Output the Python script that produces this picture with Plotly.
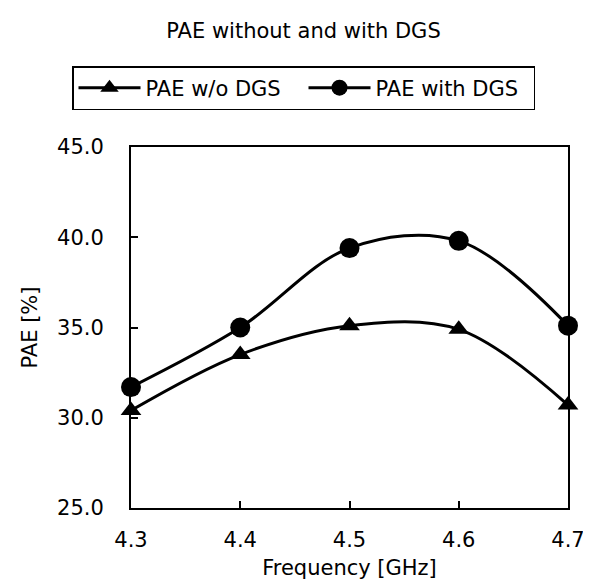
import plotly.graph_objects as go

freq = [4.3, 4.4, 4.5, 4.6, 4.7]
pae_wo_dgs = [30.4, 33.5, 35.1, 34.9, 30.7]
pae_with_dgs = [31.7, 35.0, 39.4, 39.8, 35.1]
x_ticks = [4.3, 4.4, 4.5, 4.6, 4.7]
y_ticks = [25.0, 30.0, 35.0, 40.0, 45.0]

font_family = "DejaVu Sans, Arial, sans-serif"
W, H = 591, 579
L, R, T, B = 123, 31, 139, 79

fig = go.Figure()
fig.add_trace(go.Scatter(
    x=freq, y=pae_wo_dgs, name="PAE w/o DGS", mode="lines+markers",
    line=dict(color="black", width=3, shape="spline", smoothing=1),
    marker=dict(symbol="triangle-up", size=18, color="black"),
    cliponaxis=False,
))
fig.add_trace(go.Scatter(
    x=freq, y=pae_with_dgs, name="PAE with DGS", mode="lines+markers",
    line=dict(color="black", width=3, shape="spline", smoothing=1),
    marker=dict(symbol="circle", size=20, color="black"),
    cliponaxis=False,
))

plot_w = W - L - R
plot_h = H - T - B
legend_x = (64 - L) / plot_w
legend_y = (H - B - 58) / plot_h

fig.update_layout(
    width=W, height=H,
    margin=dict(l=L, r=R, t=T, b=B, autoexpand=False),
    paper_bgcolor="white", plot_bgcolor="white",
    font=dict(family=font_family, color="black", size=21),
    title=dict(text="PAE without and with DGS", x=0.5, xanchor="center",
               y=1 - 23 / H, yanchor="middle",
               font=dict(size=21, family=font_family, color="black")),
    legend=dict(orientation="h", x=legend_x, xanchor="left", y=legend_y, yanchor="top",
                bordercolor="black", borderwidth=1.5, bgcolor="white",
                font=dict(size=21, family=font_family, color="black"),
                itemwidth=62, itemsizing="trace",
                entrywidth=153, entrywidthmode="pixels"),
    showlegend=True,
)
fig.update_xaxes(
    range=[4.3, 4.7], tickvals=x_ticks, ticktext=[f"{v:.1f}" for v in x_ticks],
    showgrid=False, zeroline=False, showline=True, linecolor="black", linewidth=2,
    mirror=True, ticks="inside", ticklen=7, tickwidth=1.5, tickcolor="black",
    ticklabelstandoff=12,
    title=dict(text="Frequency [GHz]", font=dict(size=21), standoff=9),
    tickfont=dict(size=21),
)
fig.update_yaxes(
    range=[25, 45], tickvals=y_ticks, ticktext=[f"{v:.1f}" for v in y_ticks],
    showgrid=False, zeroline=False, showline=True, linecolor="black", linewidth=2,
    mirror=True, ticks="inside", ticklen=7, tickwidth=1.5, tickcolor="black",
    ticklabelstandoff=21,
    title=dict(text="PAE [%]", font=dict(size=21), standoff=14),
    tickfont=dict(size=21),
)

fig.write_html("out.html")
